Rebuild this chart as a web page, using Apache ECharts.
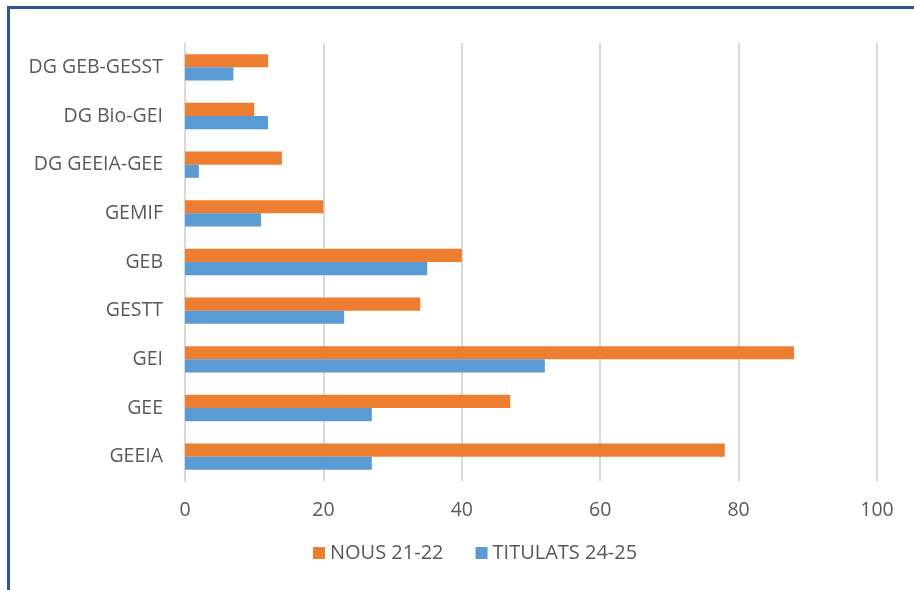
<!DOCTYPE html>
<html><head><meta charset="utf-8">
<script src="https://cdn.jsdelivr.net/npm/echarts@6/dist/echarts.min.js"></script>
<style>
html,body{margin:0;padding:0;background:#fff;}
#frame{position:absolute;left:7px;top:6px;width:920px;height:600px;border-top:3px solid #2F5597;border-left:3px solid #2F5597;box-sizing:border-box;}
#c{position:absolute;left:0;top:0;width:914px;height:590px;}
</style></head><body>
<div id="frame"></div>
<div id="c"></div>
<script>
const categories = ['GEEIA','GEE','GEI','GESTT','GEB','GEMIF','DG GEEIA-GEE','DG Bio-GEI','DG GEB-GESST'];
const titulats = [27, 27, 52, 23, 35, 11, 2, 12, 7];
const nous = [78, 47, 88, 34, 40, 20, 14, 10, 12];
const xTicks = [0, 20, 40, 60, 80, 100];

const chart = echarts.init(document.getElementById('c'), null, {renderer:'canvas'});
const font = "'Open Sans', 'Liberation Sans', sans-serif";
chart.setOption({
  animation:false,
  textStyle:{fontFamily:font},
  grid:{left:185, right:37, top:43, bottom:109, containLabel:false},
  legend:{
    data:['NOUS 21-22','TITULATS 24-25'],
    bottom:22, left:308,
    itemWidth:12, itemHeight:12, itemGap:32,
    icon:'rect',
    textStyle:{color:'#595959', fontSize:20, fontFamily:font}
  },
  xAxis:{
    type:'value', min:xTicks[0], max:xTicks[xTicks.length-1], interval:20,
    axisLine:{show:false}, axisTick:{show:false},
    splitLine:{lineStyle:{color:'#d9d9d9', width:2}},
    axisLabel:{color:'#595959', fontSize:19.5, margin:19, fontFamily:font}
  },
  yAxis:{
    type:'category', data:categories,
    axisLine:{show:true, lineStyle:{color:'#d9d9d9', width:2}},
    axisTick:{show:false},
    axisLabel:{color:'#595959', fontSize:19.5, margin:22, fontFamily:font}
  },
  series:[
    {name:'NOUS 21-22', type:'bar', data:nous, barWidth:'27%', barGap:'0%', itemStyle:{color:'#ED7D31'}},
    {name:'TITULATS 24-25', type:'bar', data:titulats, barWidth:'27%', barGap:'0%', itemStyle:{color:'#5B9BD5'}}
  ]
});
</script>
</body></html>
